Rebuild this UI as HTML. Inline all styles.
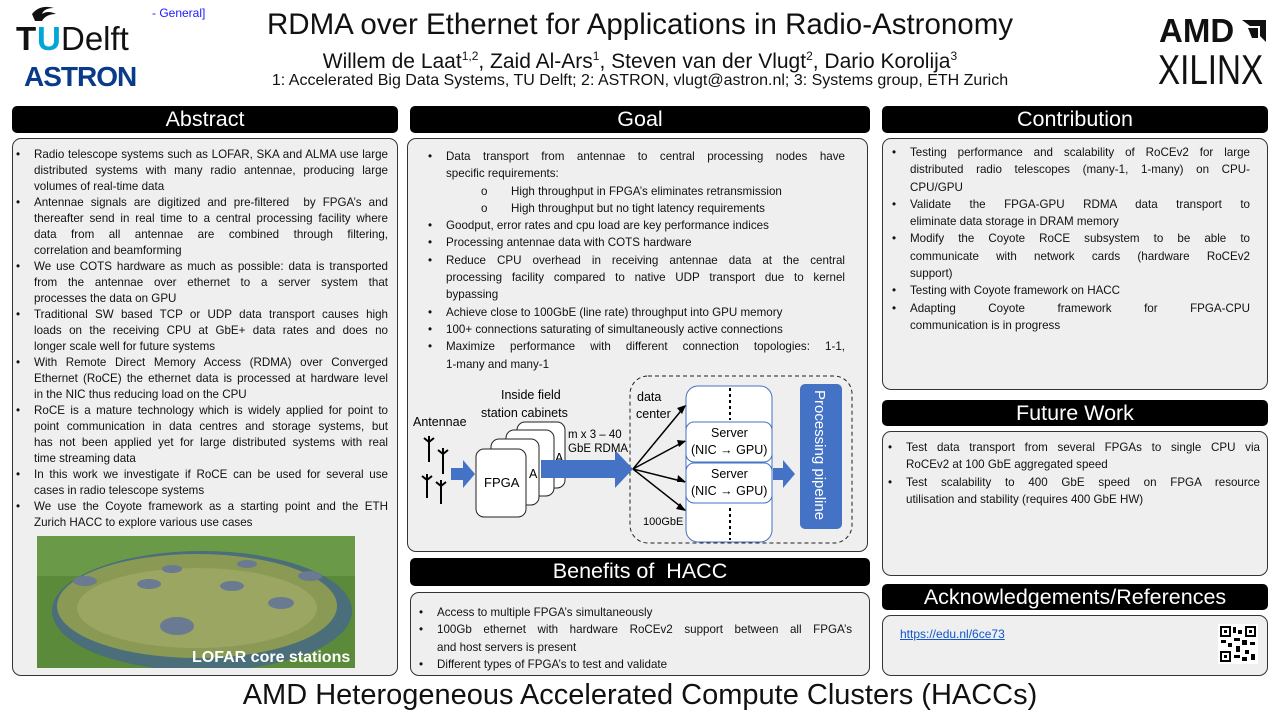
<!DOCTYPE html>
<html><head><meta charset="utf-8"><style>
*{margin:0;padding:0;box-sizing:border-box}
body{width:1280px;height:720px;background:#fff;position:relative;overflow:hidden;font-family:"Liberation Sans",sans-serif;color:#111}
.a{position:absolute}
.hd{position:absolute;background:#000;color:#fff;border-radius:5px;text-align:center;font-size:21.5px;line-height:27px}
.bx{position:absolute;background:#efefef;border:1px solid #333;border-radius:9px}
.t{position:absolute;font-size:11.6px;line-height:16px;white-space:nowrap}
.t div{position:relative}
.j{text-align:justify;text-align-last:justify}
.b::before{content:"•";position:absolute;left:-18px}
.o::before{content:"o";position:absolute;left:-30px}
</style></head><body>

<svg class="a" style="left:16px;top:2px" width="140" height="92">
<path d="M16 12 Q24 2 38 6 Q28 6 26 12 Q32 8 40 12 Q30 12 26 19 L19 19 Z" fill="#111"/>
<text x="0" y="48" font-family="Liberation Sans" font-size="33" font-weight="bold" fill="#111">T</text>
<text x="21" y="48" font-family="Liberation Sans" font-size="33" font-weight="bold" fill="#00a6d6">U</text>
<text x="45" y="48" font-family="Liberation Sans" font-size="33" fill="#111">Delft</text>
<text x="8" y="84" font-family="Liberation Sans" font-size="28" font-weight="bold" fill="#0a3a8a" letter-spacing="-1">ASTRON</text>
</svg>
<div class="a" style="left:152px;top:6px;font-size:12px;color:#1a1aff">- General]</div>

<div class="a" style="left:0;width:1280px;top:8px;text-align:center;font-size:29.5px;line-height:34px">RDMA over Ethernet for Applications in Radio-Astronomy</div>
<div class="a" style="left:0;width:1280px;top:43px;text-align:center;font-size:21px;line-height:26px">Willem de Laat<sup style="font-size:12px">1,2</sup>, Zaid Al-Ars<sup style="font-size:12px">1</sup>, Steven van der Vlugt<sup style="font-size:12px">2</sup>, Dario Korolija<sup style="font-size:12px">3</sup></div>
<div class="a" style="left:0;width:1280px;top:71px;text-align:center;font-size:16px;line-height:20px">1: Accelerated Big Data Systems, TU Delft; 2: ASTRON, vlugt@astron.nl; 3: Systems group, ETH Zurich</div>

<div class="a" style="left:1159px;top:13px;font-size:33px;font-weight:bold;line-height:36px">AMD</div>
<svg class="a" style="left:1240px;top:18px" width="28" height="26"><path d="M2 2 H26 V24 L20 18 V8 H10 Z" fill="#111"/><path d="M8 10 H18 V20 H12 Z" fill="#111"/></svg>
<div class="a" style="left:1158px;top:49px;font-size:42px;line-height:42px;transform:scaleX(0.79);transform-origin:left">XILINX</div>

<div class="hd" style="left:12px;top:106px;width:386px;height:27px">Abstract</div>
<div class="hd" style="left:410px;top:106px;width:460px;height:27px">Goal</div>
<div class="hd" style="left:882px;top:106px;width:386px;height:27px">Contribution</div>
<div class="hd" style="left:410px;top:558px;width:460px;height:28px">Benefits of &nbsp;HACC</div>
<div class="hd" style="left:882px;top:400px;width:386px;height:26px">Future Work</div>
<div class="hd" style="left:882px;top:584px;width:386px;height:26px">Acknowledgements/References</div>

<div class="bx" style="left:12px;top:138px;width:386px;height:538px"></div>
<div class="bx" style="left:407px;top:138px;width:461px;height:414px"></div>
<div class="bx" style="left:410px;top:592px;width:460px;height:84px"></div>
<div class="bx" style="left:882px;top:138px;width:386px;height:252px"></div>
<div class="bx" style="left:882px;top:431px;width:386px;height:145px"></div>
<div class="bx" style="left:882px;top:615px;width:386px;height:61px"></div>

<div class="t" style="left:34px;top:147px;width:354px">
<div class="j b">Radio telescope systems such as LOFAR, SKA and ALMA use large</div>
<div class="j">distributed systems with many radio antennae, producing large</div>
<div>volumes of real-time data</div>
<div class="j b">Antennae signals are digitized and pre-filtered &nbsp;by FPGA’s and</div>
<div class="j">thereafter send in real time to a central processing facility where</div>
<div class="j">data from all antennae are combined through filtering,</div>
<div>correlation and beamforming</div>
<div class="j b">We use COTS hardware as much as possible: data is transported</div>
<div class="j">from the antennae over ethernet to a server system that</div>
<div>processes the data on GPU</div>
<div class="j b">Traditional SW based TCP or UDP data transport causes high</div>
<div class="j">loads on the receiving CPU at GbE+ data rates and does no</div>
<div>longer scale well for future systems</div>
<div class="j b">With Remote Direct Memory Access (RDMA) over Converged</div>
<div class="j">Ethernet (RoCE) the ethernet data is processed at hardware level</div>
<div>in the NIC thus reducing load on the CPU</div>
<div class="j b">RoCE is a mature technology which is widely applied for point to</div>
<div class="j">point communication in data centres and storage systems, but</div>
<div class="j">has not been applied yet for large distributed systems with real</div>
<div>time streaming data</div>
<div class="j b">In this work we investigate if RoCE can be used for several use</div>
<div>cases in radio telescope systems</div>
<div class="j b">We use the Coyote framework as a starting point and the ETH</div>
<div>Zurich HACC to explore various use cases</div>
</div>

<svg class="a" style="left:37px;top:536px" width="318" height="132">
<rect width="318" height="132" fill="#5a8a3a"/>
<rect width="318" height="40" fill="#6a9a48"/>
<ellipse cx="165" cy="75" rx="150" ry="60" fill="#4a6e7a"/>
<ellipse cx="160" cy="70" rx="140" ry="52" fill="#8a9a55"/>
<ellipse cx="160" cy="72" rx="120" ry="40" fill="#9aa662"/>
<g fill="#6a7a90"><ellipse cx="48" cy="45" rx="12" ry="5"/><ellipse cx="112" cy="48" rx="12" ry="5"/><ellipse cx="195" cy="50" rx="12" ry="5"/><ellipse cx="244" cy="67" rx="13" ry="6"/><ellipse cx="140" cy="90" rx="17" ry="9"/><ellipse cx="210" cy="28" rx="10" ry="4"/><ellipse cx="135" cy="33" rx="10" ry="4"/><ellipse cx="273" cy="40" rx="12" ry="5"/></g>
<text x="155" y="126" font-family="Liberation Sans" font-size="16" font-weight="bold" fill="#fff">LOFAR core stations</text>
</svg>

<div class="t" style="left:446px;top:148px;width:399px;line-height:17.3px">
<div class="j b">Data transport from antennae to central processing nodes have</div>
<div>specific requirements:</div>
<div class="o" style="left:65px">High throughput in FPGA’s eliminates retransmission</div>
<div class="o" style="left:65px">High throughput but no tight latency requirements</div>
<div class="b">Goodput, error rates and cpu load are key performance indices</div>
<div class="b">Processing antennae data with COTS hardware</div>
<div class="j b">Reduce CPU overhead in receiving antennae data at the central</div>
<div class="j">processing facility compared to native UDP transport due to kernel</div>
<div>bypassing</div>
<div class="b">Achieve close to 100GbE (line rate) throughput into GPU memory</div>
<div class="b">100+ connections saturating of simultaneously active connections</div>
<div class="j b">Maximize performance with different connection topologies: 1-1,</div>
<div>1-many and many-1</div>
</div>

<svg class="a" style="left:405px;top:370px" width="465" height="185" font-family="Liberation Sans" font-size="12.5">
<rect x="225" y="6" width="222" height="167" rx="18" fill="none" stroke="#222" stroke-dasharray="4,3"/>
<text x="96" y="29">Inside field</text>
<text x="76" y="47">station cabinets</text>
<text x="8" y="56">Antennae</text>
<g stroke="#000" stroke-width="2" fill="none">
<path d="M24 66 V92 M19 68 L24 72 L29 68"/><path d="M38 78 V104 M33 80 L38 84 L43 80"/>
<path d="M22 104 V128 M17 106 L22 110 L27 106"/><path d="M36 110 V134 M31 112 L36 116 L41 112"/>
</g>
<path d="M46 98 H58 V90 L70 104 L58 118 V110 H46 Z" fill="#4472c4"/>
<rect x="112" y="52" width="48" height="66" rx="8" fill="#fff" stroke="#222"/>
<rect x="101" y="60" width="48" height="66" rx="8" fill="#fff" stroke="#222"/>
<rect x="86" y="69" width="48" height="66" rx="8" fill="#fff" stroke="#222"/>
<text x="150" y="92">A</text><text x="124" y="108">A</text>
<rect x="71" y="79" width="50" height="68" rx="8" fill="#fff" stroke="#222"/>
<text x="79" y="117" font-size="13">FPGA</text>
<path d="M136 90 H210 V80 L228 99 L210 118 V108 H136 Z" fill="#4472c4"/>
<text x="163" y="68" font-size="11.5">m x 3 – 40</text>
<text x="163" y="82" font-size="11.5">GbE RDMA</text>
<text x="232" y="31">data</text><text x="231" y="48">center</text>
<text x="238" y="155" font-size="11">100GbE</text>
<rect x="281" y="16" width="86" height="156" rx="12" fill="#fff" stroke="#4472c4"/>
<path d="M325 18 V50 M325 138 V170" stroke="#000" stroke-width="2" stroke-dasharray="3,3"/>
<rect x="281" y="52" width="86" height="40" rx="8" fill="#fff" stroke="#4472c4"/>
<rect x="281" y="93" width="86" height="40" rx="8" fill="#fff" stroke="#4472c4"/>
<text x="306" y="67">Server</text><text x="286" y="84">(NIC → GPU)</text>
<text x="306" y="108">Server</text><text x="286" y="125">(NIC → GPU)</text>
<g stroke="#000" stroke-width="1.5"><path d="M228 99 L280 36 M228 99 L280 71 M228 99 L280 112 M228 99 L280 140"/></g>
<g fill="#000"><path d="M281 35 L272 38 L277 44Z"/><path d="M281 71 L272 70 L274 77Z"/><path d="M281 112 L273 105 L272 112Z"/><path d="M281 141 L275 133 L271 139Z"/></g>
<path d="M368 98 H378 V90 L390 104 L378 118 V110 H368 Z" fill="#4472c4"/>
<rect x="395" y="14" width="42" height="145" rx="5" fill="#4472c4"/>
<text x="0" y="0" fill="#fff" font-size="15" transform="translate(410,20) rotate(90)">Processing pipeline</text>
</svg>

<div class="t" style="left:437px;top:604px;width:415px;line-height:17.3px">
<div class="b">Access to multiple FPGA’s simultaneously</div>
<div class="j b">100Gb ethernet with hardware RoCEv2 support between all FPGA’s</div>
<div>and host servers is present</div>
<div class="b">Different types of FPGA’s to test and validate</div>
</div>

<div class="t" style="left:910px;top:144px;width:340px;line-height:17.3px">
<div class="j b">Testing performance and scalability of RoCEv2 for large</div>
<div class="j">distributed radio telescopes (many-1, 1-many) on CPU-</div>
<div>CPU/GPU</div>
<div class="j b">Validate the FPGA-GPU RDMA data transport to</div>
<div>eliminate data storage in DRAM memory</div>
<div class="j b">Modify the Coyote RoCE subsystem to be able to</div>
<div class="j">communicate with network cards (hardware RoCEv2</div>
<div>support)</div>
<div class="b">Testing with Coyote framework on HACC</div>
<div class="j b">Adapting Coyote framework for FPGA-CPU</div>
<div>communication is in progress</div>
</div>

<div class="t" style="left:906px;top:439px;width:354px;line-height:17.3px">
<div class="j b">Test data transport from several FPGAs to single CPU via</div>
<div>RoCEv2 at 100 GbE aggregated speed</div>
<div class="j b">Test scalability to 400 GbE speed on FPGA resource</div>
<div>utilisation and stability (requires 400 GbE HW)</div>
</div>

<div class="a" style="left:900px;top:627px;font-size:12px;color:#1155cc;text-decoration:underline">https://edu.nl/6ce73</div>
<svg class="a" style="left:1218px;top:624px" width="40" height="40">
<rect width="40" height="40" fill="#fff"/>
<g fill="#000"><rect x="2" y="2" width="11" height="11"/><rect x="27" y="2" width="11" height="11"/><rect x="2" y="27" width="11" height="11"/></g>
<g fill="#fff"><rect x="4" y="4" width="7" height="7"/><rect x="29" y="4" width="7" height="7"/><rect x="4" y="29" width="7" height="7"/></g>
<g fill="#000"><rect x="6" y="6" width="3" height="3"/><rect x="31" y="6" width="3" height="3"/><rect x="6" y="31" width="3" height="3"/>
<rect x="15" y="3" width="3" height="6"/><rect x="20" y="6" width="4" height="4"/><rect x="16" y="14" width="6" height="3"/><rect x="3" y="16" width="5" height="3"/><rect x="10" y="19" width="4" height="4"/><rect x="24" y="16" width="5" height="5"/><rect x="32" y="18" width="5" height="3"/><rect x="18" y="22" width="4" height="6"/><rect x="27" y="26" width="4" height="4"/><rect x="33" y="30" width="4" height="6"/><rect x="16" y="31" width="6" height="3"/><rect x="24" y="33" width="5" height="4"/></g>
</svg>

<div class="a" style="left:0;width:1280px;top:678px;text-align:center;font-size:29px;line-height:34px">AMD Heterogeneous Accelerated Compute Clusters (HACCs)</div>
</body></html>
